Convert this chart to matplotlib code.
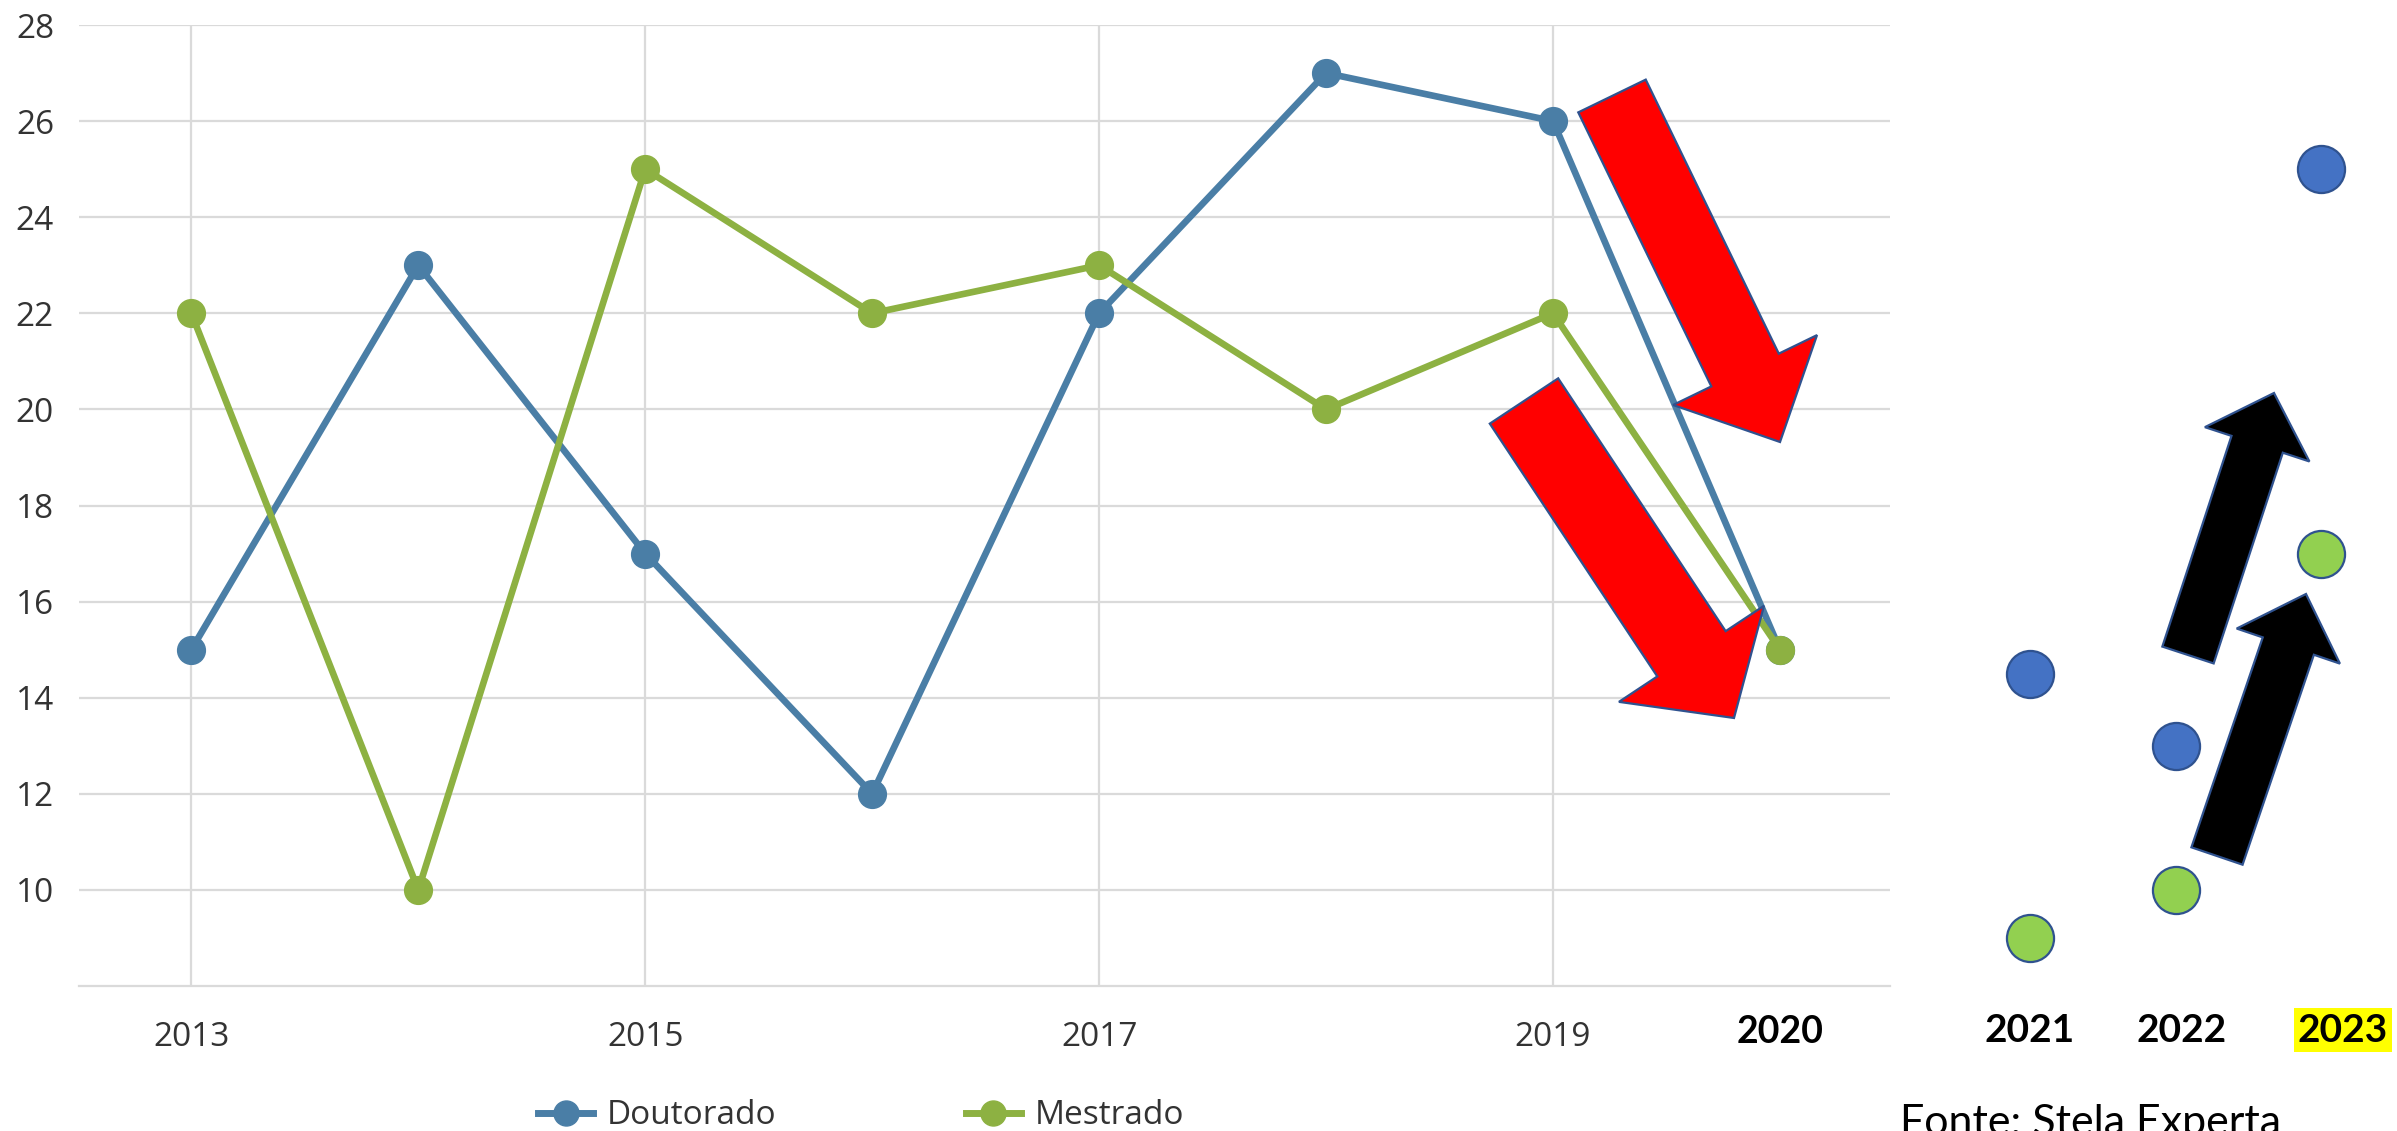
import matplotlib
matplotlib.use("Agg")
import matplotlib.pyplot as plt
import numpy as np
from matplotlib.patches import Polygon
from matplotlib.lines import Line2D
from matplotlib.transforms import Affine2D

W, H = 2397, 1131

# dados
anos = [2013, 2014, 2015, 2016, 2017, 2018, 2019, 2020]
doutorado = [15, 23, 17, 12, 22, 27, 26, 15]
mestrado = [22, 10, 25, 22, 23, 20, 22, 15]

anos_novos = [2021, 2022, 2023]
doutorado_novos = [14.5, 13, 25]
mestrado_novos = [9, 10, 17]

xticks_anos = [2013, 2015, 2017, 2019]
yticks_vals = list(range(10, 29, 2))

AZUL = "#4A7EA6"
VERDE = "#8DB142"
AZUL_PONTO = "#4472C4"
VERDE_PONTO = "#92D050"
BORDA = "#2F528F"
GRADE = "#DADADA"


def px(x, y):
    # pixel da imagem -> fracao da figura
    return x / W, 1 - y / H


def seta(fig, tail, tip, sw, hw, hl, cor):
    tail = np.array(tail, float)
    tip = np.array(tip, float)
    u = (tip - tail) / np.linalg.norm(tip - tail)
    n = np.array([-u[1], u[0]])
    base = tip - u * hl
    pts = [tail + n * sw / 2, base + n * sw / 2, base + n * hw / 2, tip,
           base - n * hw / 2, base - n * sw / 2, tail - n * sw / 2]
    tr = Affine2D().scale(1, -1).translate(0, H)
    fig.patches.append(Polygon(pts, closed=True, facecolor=cor, edgecolor=BORDA,
                               linewidth=1.6, transform=tr, figure=fig, zorder=10))


fig = plt.figure(figsize=(W / 100, H / 100), dpi=100)

left, top = px(79, 25)
right, bottom = px(1890, 986)
ax = fig.add_axes([left, bottom, right - left, top - bottom])

ax.plot(anos, doutorado, color=AZUL, lw=4.8, marker="o", ms=20, zorder=3)
ax.plot(anos, mestrado, color=VERDE, lw=4.8, marker="o", ms=20, zorder=3)

ax.set_xlim(2012.505, 2020.485)
ax.set_ylim(8, 28)
ax.set_xticks(xticks_anos)
ax.set_yticks(yticks_vals)
ax.grid(True, color=GRADE, lw=1.6)
ax.set_axisbelow(True)
for s in ["top", "right", "left"]:
    ax.spines[s].set_visible(False)
ax.spines["bottom"].set_color(GRADE)
ax.spines["bottom"].set_linewidth(1.6)
ax.tick_params(length=0, labelsize=24, labelcolor="#333333")
ax.tick_params(axis="x", pad=25)
ax.tick_params(axis="y", pad=18)
for t in ax.get_xticklabels() + ax.get_yticklabels():
    t.set_fontfamily("Open Sans")

ax.text(2020, -0.048, "2020", transform=ax.get_xaxis_transform(), ha="center",
        va="center", fontsize=27, fontweight="bold", family="Lato", color="black")

# painel da direita
l2, _ = px(1960, 0)
ax2 = fig.add_axes([l2, bottom, 1 - l2, top - bottom])
ax2.set_xlim(2020.52, 2023.52)
ax2.set_ylim(8, 28)
ax2.axis("off")
ax2.scatter(anos_novos, doutorado_novos, s=1150, color=AZUL_PONTO,
            edgecolor=BORDA, linewidth=1.6, zorder=3, clip_on=False)
ax2.scatter(anos_novos, mestrado_novos, s=1150, color=VERDE_PONTO,
            edgecolor=BORDA, linewidth=1.6, zorder=3, clip_on=False)

for ano, xp in zip(anos_novos, [2030, 2182, 2343]):
    kw = {}
    if ano == 2023:
        kw["bbox"] = dict(facecolor="#FFFF00", edgecolor="none", pad=3)
    fig.text(*px(xp, 1030), str(ano), ha="center", va="center", fontsize=28,
             fontweight="bold", family="Lato", color="black", **kw)

fig.text(*px(1900, 1104), "Fonte: Stela Experta", ha="left", va="top",
         fontsize=31, family="Lato", color="black")

# setas
seta(fig, (1612, 96), (1780, 442), 75, 160, 80, "#FF0000")
seta(fig, (1524, 401), (1734, 718), 82, 174, 77, "#FF0000")
seta(fig, (2188, 655), (2274, 393), 54, 110, 54, "black")
seta(fig, (2217, 856), (2306, 594), 54, 109, 55, "black")

# legenda
handles = [
    Line2D([], [], color=AZUL, lw=5, marker="o", ms=18, label="Doutorado"),
    Line2D([], [], color=VERDE, lw=5, marker="o", ms=18, label="Mestrado"),
]
lx, ly = px(538, 1116)
fig.legend(handles=handles, loc="center left", bbox_to_anchor=(lx, ly), ncol=2,
           frameon=False, borderpad=0, borderaxespad=0, handlelength=1.65,
           handletextpad=0.4, columnspacing=5.7,
           prop={"family": "Open Sans", "size": 24}, labelcolor="#333333")

fig.savefig("out.png", dpi=100)
